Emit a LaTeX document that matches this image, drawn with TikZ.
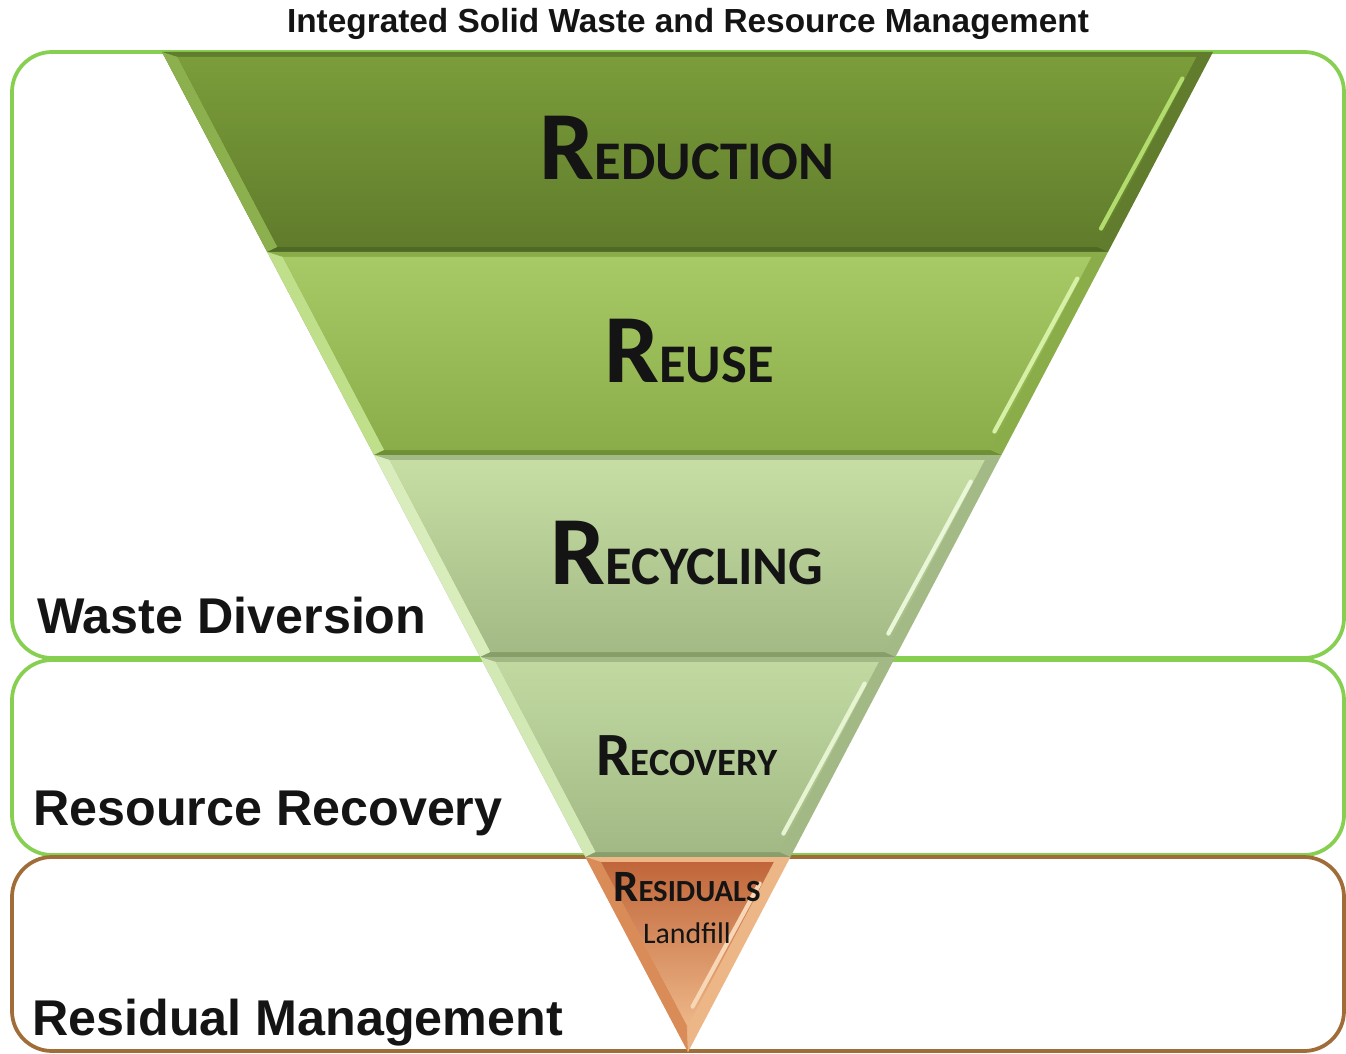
\documentclass[tikz,border=0pt]{standalone}
\usepackage{fontspec}
\setmainfont{Liberation Sans}
\newfontfamily\calibfont{Carlito}
\newcommand{\edgewd}{0.075cm}
\definecolor{boxgreen}{HTML}{86CF50}
\definecolor{boxbrown}{HTML}{A06C38}
\definecolor{inktext}{HTML}{141414}
% slice colours: face top, face bottom, left bevel, bottom bevel, highlight
\definecolor{redA}{HTML}{7B9D3A}\definecolor{redB}{HTML}{607C2C}\definecolor{redC}{HTML}{8DB04E}\definecolor{redD}{HTML}{4E6923}\definecolor{redE}{HTML}{B2DC6E}
\definecolor{reuA}{HTML}{A7C966}\definecolor{reuB}{HTML}{8AAD49}\definecolor{reuC}{HTML}{C0DF8A}\definecolor{reuD}{HTML}{6E8F33}\definecolor{reuE}{HTML}{D6F0A6}
\definecolor{recA}{HTML}{C6DDA3}\definecolor{recB}{HTML}{A3BA86}\definecolor{recC}{HTML}{D9ECBC}\definecolor{recD}{HTML}{879E69}\definecolor{recE}{HTML}{EAF6D8}
\definecolor{covA}{HTML}{C1D9A1}\definecolor{covB}{HTML}{A2B985}\definecolor{covC}{HTML}{D2E8B5}\definecolor{covD}{HTML}{889F6C}\definecolor{covE}{HTML}{E6F4D2}
\definecolor{resA}{HTML}{C0663A}\definecolor{resB}{HTML}{EDB687}\definecolor{resC}{HTML}{D98B58}\definecolor{resD}{HTML}{E9B083}\definecolor{resE}{HTML}{F7D7B5}
% one bevelled slice of the funnel: top y, bottom y, inner bottom y, colour prefix
\newcommand{\bevelband}[4]{%
  \pgfmathsetmacro{\xlt}{162+0.526*(#1-52)}
  \pgfmathsetmacro{\xrt}{1213-0.525*(#1-52)}
  \pgfmathsetmacro{\xlb}{162+0.526*(#2-52)}
  \pgfmathsetmacro{\xrb}{1213-0.525*(#2-52)}
  \pgfmathsetmacro{\ilt}{162+0.526*(#1+5-52)+13}
  \pgfmathsetmacro{\irt}{1213-0.525*(#1+5-52)-14}
  \pgfmathsetmacro{\ilb}{162+0.526*(#3-52)+13}
  \pgfmathsetmacro{\irb}{1213-0.525*(#3-52)-14}
  \fill[#4B] (\xlt,#1) -- (\xrt,#1) -- (\xrb,#2) -- (\xlb,#2) -- cycle;
  \fill[#4C] (\xlt,#1) -- (\ilt,#1+5) -- (\ilb,#3) -- (\xlb,#2) -- cycle;
  \fill[#4D] (\xlb,#2) -- (\ilb,#3) -- (\irb,#3) -- (\xrb,#2) -- cycle;
  \shade[top color=#4A, bottom color=#4B]
    (\ilt,#1+5) -- (\irt,#1+5) -- (\irb,#3) -- (\ilb,#3) -- cycle;
  \draw[#4E, line width=2.4pt, line cap=round, shorten <=12pt, shorten >=10pt]
    (\irt-4,#1+8) -- (\irb-4,#3-3);
}
\newcommand{\capword}[4]{{\fontsize{#3}{#3}\selectfont #1}{\fontsize{#4}{#4}\selectfont #2}}

\begin{document}
\begin{tikzpicture}[x=0.02cm, y=-0.02cm]
  \useasboundingbox (0,0) rectangle (1346,1054);

  % layer frames
  \draw[boxgreen, line width=\edgewd, rounded corners=0.8cm] (12,52) rectangle (1344,658);
  \draw[boxgreen, line width=\edgewd, rounded corners=0.8cm] (12,660) rectangle (1344,855);
  \draw[boxbrown, line width=\edgewd, rounded corners=0.8cm] (12,857) rectangle (1344,1051);

  % funnel
  \bevelband{52}{252}{247}{red}
  \bevelband{252}{455}{450}{reu}
  \bevelband{455}{657}{652}{rec}
  \bevelband{657}{857}{852}{cov}
  \bevelband{857}{1052}{1025}{res}

  \node (title) at (688,33) [anchor=base, inner sep=0pt, text=inktext,
    font=\bfseries\fontsize{19pt}{21pt}\selectfont] {Integrated Solid Waste and Resource Management};

  \node (reduction) at (687,180) [anchor=base, inner sep=0pt, text=inktext, font=\calibfont\bfseries]
    {\capword{R}{EDUCTION}{55.6pt}{31pt}};
  \node (reuse) at (689,382) [anchor=base, inner sep=0pt, text=inktext, font=\calibfont\bfseries]
    {\capword{R}{EUSE}{55.6pt}{31pt}};
  \node (recycling) at (687,584) [anchor=base, inner sep=0pt, text=inktext, font=\calibfont\bfseries]
    {\capword{R}{ECYCLING}{55.6pt}{31pt}};
  \node (recovery) at (687,775) [anchor=base, inner sep=0pt, text=inktext, font=\calibfont\bfseries]
    {\capword{R}{ECOVERY}{35pt}{22pt}};
  \node (residuals) at (687,901) [anchor=base, inner sep=0pt, text=inktext, font=\calibfont\bfseries]
    {\capword{R}{ESIDUALS}{25.5pt}{17.5pt}};
  \node (landfill) at (687,943) [anchor=base, inner sep=0pt, text=inktext,
    font=\calibfont\fontsize{17pt}{17pt}\selectfont] {Landfill};

  \draw[font=\bfseries\fontsize{28.6pt}{30pt}\selectfont, text=inktext]
    (37,633) node (wastediv) [anchor=base west, inner sep=0pt] {Waste Diversion}
    (33,825) node (resrecov) [anchor=base west, inner sep=0pt] {Resource Recovery}
    (32,1035) node (residmgmt) [anchor=base west, inner sep=0pt] {Residual Management};
\end{tikzpicture}
\end{document}
